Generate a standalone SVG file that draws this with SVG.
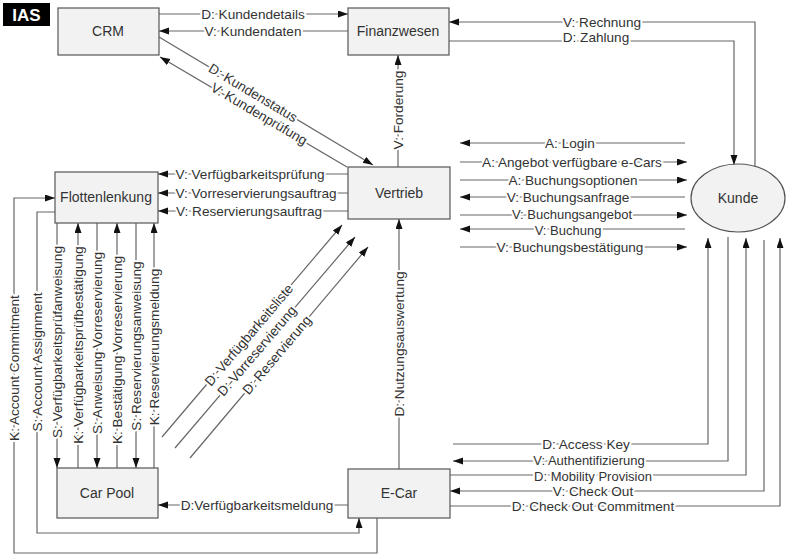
<svg xmlns="http://www.w3.org/2000/svg" width="788" height="557" viewBox="0 0 788 557">
<style>
.box{fill:#f2f2f2;stroke:#555;stroke-width:1.2}
.nt{font-family:"Liberation Sans",Arial,sans-serif;font-size:14px;fill:#333;text-anchor:middle;dominant-baseline:central}
.c{fill:none;stroke:#666;stroke-width:1.2}
.a{marker-end:url(#arr)}
.l{font-family:"Liberation Sans",Arial,sans-serif;font-size:13.6px;fill:#333;text-anchor:middle;dominant-baseline:central;stroke:#fff;stroke-width:4px;paint-order:stroke;stroke-linejoin:round}
.s{font-size:13px}
</style>
<defs>
<marker id="arr" markerUnits="userSpaceOnUse" markerWidth="11" markerHeight="8" refX="10" refY="3.5" orient="auto">
<path d="M0,0 L10,3.5 L0,7 z" fill="#111"/>
</marker>
</defs>
<rect width="788" height="557" fill="#fff"/>
<g id="ias">
<rect x="3" y="3" width="47" height="23" fill="#000"/>
<text x="26.5" y="15" font-family="Liberation Sans,Arial,sans-serif" font-size="17" font-weight="bold" fill="#fff" text-anchor="middle" dominant-baseline="central">IAS</text>
</g>
<g id="connectors">
<path class="c a" d="M159,14 H348"/>
<path class="c a" d="M348,31 H159"/>
<path class="c a" d="M159,37 L373,165"/>
<path class="c a" d="M347,167 L160,57"/>
<path class="c a" d="M755,168 V22 H449"/>
<path class="c a" d="M449,41 H734 V165"/>
<path class="c a" d="M398,167 V55"/>
<path class="c a" d="M348,174 H158"/>
<path class="c a" d="M348,193 H158"/>
<path class="c a" d="M348,211 H158"/>
<path class="c a" d="M57,223 V468"/>
<path class="c a" d="M78,468 V223"/>
<path class="c a" d="M97,223 V468"/>
<path class="c a" d="M117,468 V223"/>
<path class="c a" d="M136,223 V468"/>
<path class="c a" d="M154,468 V223"/>
<path class="c a" d="M55,212 H37 V533 H359 V518"/>
<path class="c a" d="M377,518 V553 H14 V198 H55"/>
<path class="c a" d="M162,437 L342,225"/>
<path class="c a" d="M175,448 L355,237"/>
<path class="c a" d="M190,458 L368,247"/>
<path class="c a" d="M399,469 V219"/>
<path class="c a" d="M685,143 H460"/>
<path class="c a" d="M460,162 H687"/>
<path class="c a" d="M460,180 H687"/>
<path class="c a" d="M685,197 H460"/>
<path class="c a" d="M460,215 H687"/>
<path class="c a" d="M685,229 H460"/>
<path class="c a" d="M460,247 H687"/>
<path class="c a" d="M453,444 H708 V238"/>
<path class="c a" d="M728,237 V461 H453"/>
<path class="c a" d="M450,475 H746 V238"/>
<path class="c a" d="M764,240 V491 H450"/>
<path class="c a" d="M450,506 H780 V238"/>
<path class="c a" d="M348,505 H158"/>
<text class="l" x="253" y="14">D: Kundendetails</text>
<text class="l" x="253" y="31">V: Kundendaten</text>
<text class="l" transform="translate(253,93) rotate(30.9)">D: Kundenstatus</text>
<text class="l" transform="translate(259,114) rotate(30.5)">V: Kundenprüfung</text>
<text class="l" x="602" y="22">V: Rechnung</text>
<text class="l" x="596" y="37">D: Zahlung</text>
<text class="l" transform="translate(398,110) rotate(-90)">V: Forderung</text>
<text class="l" x="250" y="174">V: Verfügbarkeitsprüfung</text>
<text class="l" x="256" y="193">V: Vorreservierungsauftrag</text>
<text class="l" x="249" y="211">V: Reservierungsauftrag</text>
<text class="l" transform="translate(57,342) rotate(-90)">S: Verfügbarkeitsprüfanweisung</text>
<text class="l" transform="translate(78,345) rotate(-90)">K: Verfügbarkeitsprüfbestätigung</text>
<text class="l" transform="translate(97,343) rotate(-90)">S: Anweisung Vorreservierung</text>
<text class="l" transform="translate(117,350) rotate(-90)">K: Bestätigung Vorreservierung</text>
<text class="l" transform="translate(136,346) rotate(-90)">S: Reservierungsanweisung</text>
<text class="l" transform="translate(154,347) rotate(-90)">K: Reservierungsmeldung</text>
<text class="l" transform="translate(37,362) rotate(-90)">S: Account Assignment</text>
<text class="l" transform="translate(14,368) rotate(-90)">K: Account Commitment</text>
<text class="l" transform="translate(249,335) rotate(-49.7)">D: Verfügbarkeitsliste</text>
<text class="l" transform="translate(257,351) rotate(-49.5)">D: Vorreservierung</text>
<text class="l" transform="translate(277,355) rotate(-49.8)">D: Reservierung</text>
<text class="l" transform="translate(399,344) rotate(-90)">D: Nutzungsauswertung</text>
<text class="l" x="570" y="143">A: Login</text>
<text class="l" x="572" y="162">A: Angebot verfügbare e-Cars</text>
<text class="l" x="573" y="180">A: Buchungsoptionen</text>
<text class="l" x="568" y="197">V: Buchungsanfrage</text>
<text class="l s" x="572" y="214">V: Buchungsangebot</text>
<text class="l s" x="568" y="230">V: Buchung</text>
<text class="l" x="570" y="247">V: Buchungsbestätigung</text>
<text class="l" x="586" y="444">D: Access Key</text>
<text class="l s" x="589" y="460">V: Authentifizierung</text>
<text class="l s" x="593" y="476">D: Mobility Provision</text>
<text class="l" x="593" y="491">V: Check Out</text>
<text class="l" x="593" y="506">D: Check Out Commitment</text>
<text class="l" x="257" y="505">D:Verfügbarkeitsmeldung</text>
</g>
<g id="crm"><rect class="box" x="58" y="8" width="101" height="47"/><text class="nt" x="108" y="31">CRM</text></g>
<g id="finanzwesen"><rect class="box" x="348" y="8" width="101" height="47"/><text class="nt" x="398" y="31">Finanzwesen</text></g>
<g id="vertrieb"><rect class="box" x="348" y="167" width="102" height="52"/><text class="nt" x="399" y="193">Vertrieb</text></g>
<g id="flottenlenkung"><rect class="box" x="55" y="172" width="103" height="51"/><text class="nt" x="106" y="197">Flottenlenkung</text></g>
<g id="carpool"><rect class="box" x="57" y="468" width="101" height="50"/><text class="nt" x="107" y="493">Car Pool</text></g>
<g id="ecar"><rect class="box" x="348" y="469" width="102" height="49"/><text class="nt" x="399" y="493">E-Car</text></g>
<g id="kunde"><ellipse class="box" cx="738" cy="198" rx="47" ry="34"/><text class="nt" x="738" y="198">Kunde</text></g>
</svg>
